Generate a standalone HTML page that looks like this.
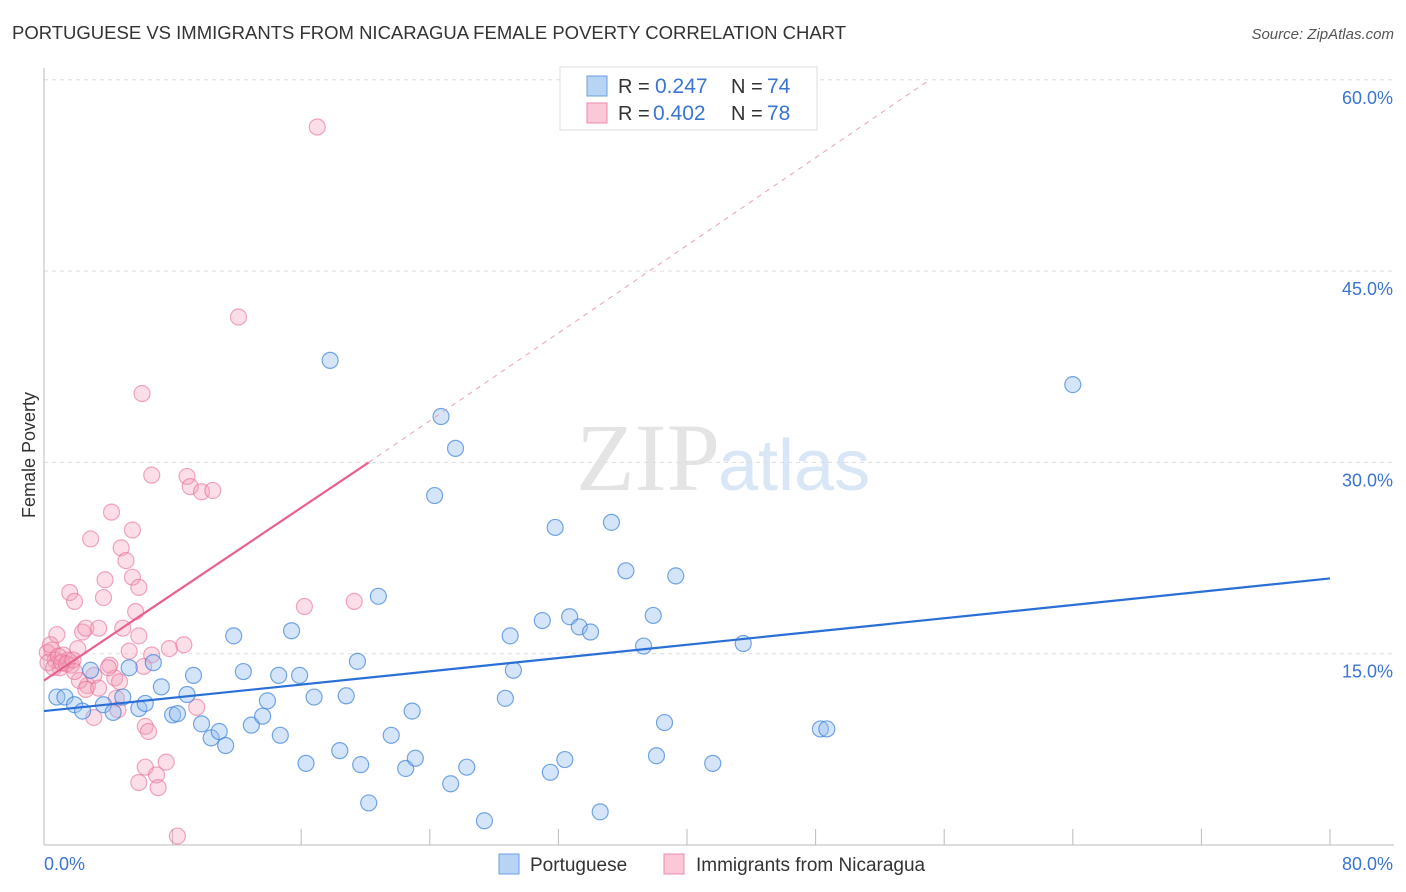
<!DOCTYPE html>
<html><head><meta charset="utf-8"><style>
body{margin:0;background:#fff;font-family:"Liberation Sans",sans-serif}
svg{display:block}
</style></head><body>
<svg id="c" width="1406" height="892">
<text x="12" y="39" font-size="18.5" fill="#333">PORTUGUESE VS IMMIGRANTS FROM NICARAGUA FEMALE POVERTY CORRELATION CHART</text>
<text x="1394" y="39" font-size="15" fill="#555" font-style="italic" text-anchor="end">Source: ZipAtlas.com</text>
<text x="720" y="490" font-size="96" fill="#e4e4e4" text-anchor="end" font-family="Liberation Serif,serif">ZIP</text>
<text x="718" y="490" font-size="72" fill="#d8e6f6">atlas</text>
<g id="grid"></g><g id="axes"></g><g id="pts"></g><g id="trend"></g>
<text x="35" y="455" font-size="18" fill="#333" text-anchor="middle" transform="rotate(-90 35 455)">Female Poverty</text>
<g>
<rect x="560" y="67" width="257" height="63" fill="#fff" stroke="#ddd"/>
<rect x="587" y="76" width="20" height="20" fill="#b8d4f4" stroke="#6a9fe0"/>
<text x="618" y="93" font-size="20" fill="#333">R =</text>
<text x="655" y="93" font-size="21" fill="#3a75d0">0.247</text>
<text x="731" y="93" font-size="20" fill="#333">N =</text>
<text x="767" y="93" font-size="21" fill="#3a75d0">74</text>
<rect x="587" y="103" width="20" height="20" fill="#fac8d6" stroke="#ec8aa8"/>
<text x="618" y="120" font-size="20" fill="#333">R =</text>
<text x="653" y="120" font-size="21" fill="#3a75d0">0.402</text>
<text x="731" y="120" font-size="20" fill="#333">N =</text>
<text x="767" y="120" font-size="21" fill="#3a75d0">78</text>
</g>
<g>
<rect x="499" y="854" width="20" height="20" fill="#b8d4f4" stroke="#6a9fe0"/>
<text x="530" y="871" font-size="19" fill="#333">Portuguese</text>
<rect x="664" y="854" width="20" height="20" fill="#fac8d6" stroke="#ec8aa8"/>
<text x="696" y="871" font-size="19" fill="#333">Immigrants from Nicaragua</text>
</g>
</svg>
<script>
const xTicks=[0,80];
const yTicks=[15,30,45,60];
const blueX=[0.8,1.3,1.9,2.4,2.9,3.7,4.3,4.9,5.3,5.9,6.3,6.8,7.3,8.0,8.3,8.9,9.3,9.8,10.4,10.9,11.3,11.8,12.4,12.9,13.6,13.9,14.7,14.6,15.4,15.9,16.3,16.8,17.8,18.4,18.8,19.5,19.7,20.2,20.8,21.6,22.5,22.9,23.1,24.3,24.7,25.3,25.6,26.3,27.4,28.7,29.0,29.2,31.0,31.5,31.8,32.4,32.7,33.3,34.0,34.6,35.3,36.2,37.3,37.9,38.1,38.6,39.3,41.6,43.5,48.3,48.7,64.0];
const blueY=[11.6,11.6,11.0,10.5,13.7,11.0,10.4,11.6,13.9,10.7,11.1,14.3,12.4,10.2,10.3,11.8,13.3,9.5,8.4,8.9,7.8,16.4,13.6,9.4,10.1,11.3,8.6,13.3,16.8,13.3,6.4,11.6,38.0,7.4,11.7,14.4,6.3,3.3,19.5,8.6,6.0,10.5,6.8,27.4,33.6,4.8,31.1,6.1,1.9,11.5,16.4,13.7,17.6,5.7,24.9,6.7,17.9,17.1,16.7,2.6,25.3,21.5,15.6,18.0,7.0,9.6,21.1,6.4,15.8,9.1,9.1,36.1];
const pinkX=[0.5,0.7,0.8,1.0,1.2,1.5,1.6,1.7,1.9,2.1,2.4,2.6,2.7,2.9,3.1,3.4,3.7,3.8,4.1,4.2,4.4,4.5,4.7,4.8,5.1,5.3,5.5,5.5,5.7,5.9,5.9,6.1,6.3,5.9,6.3,6.5,6.7,6.7,7.0,7.1,7.6,7.8,8.3,8.7,8.9,9.1,9.5,9.8,10.5,12.1,16.2,17.0,19.3,0.2,0.25,0.4,0.6,0.9,1.1,1.4,1.8,2.2,2.6,3.1,3.4,4.0,4.6,6.2,4.9,1.9];
const pinkY=[15.3,14.5,16.5,13.9,14.9,14.5,19.8,14.1,19.1,15.4,16.7,17.0,12.5,24.0,10.0,17.0,19.4,20.8,14.1,26.1,13.1,11.5,12.8,23.3,22.3,15.2,24.7,21.0,18.3,16.4,20.2,35.4,6.1,4.9,9.3,8.9,29.0,14.9,5.5,4.5,6.5,15.4,0.7,15.7,28.9,28.1,10.8,27.7,27.8,41.4,18.7,56.3,19.1,15.1,14.3,15.7,13.9,14.8,14.3,14.2,14.5,12.9,12.2,13.3,12.3,13.9,10.6,14.0,17.0,13.6];
const blueTrend=[[0,10.5],[80,20.9]];
const pinkTrend=[[0,12.9],[20.2,30.0]];
const pinkDash=[[20.2,30.0],[55.1,60]];
const NS="http://www.w3.org/2000/svg";
const sx=v=>44+v*(1286/80), sy=v=>845-v*(191.3/15);
function mk(t,a,p){const e=document.createElementNS(NS,t);for(const k in a)e.setAttribute(k,a[k]);document.getElementById(p).appendChild(e);return e;}
yTicks.forEach(t=>{
 const l=mk('line',{x1:44,x2:1394,y1:sy(t),y2:sy(t),stroke:'#ddd','stroke-dasharray':'4 4'},'grid');
 
 
 const tx=mk('text',{x:1393,y:sy(t)+24,'font-size':18,fill:'#3a75d0','text-anchor':'end'},'grid');tx.textContent=t.toFixed(1)+'%';
 
 
});
const ax=mk('line',{x1:44,x2:44,y1:68,y2:845,stroke:'#bbb'},'axes');


const bx=mk('line',{x1:44,x2:1394,y1:845,y2:845,stroke:'#bbb'},'axes');


for(let i=1;i<=10;i++){const x=sx(i*8);const t=mk('line',{x1:x,x2:x,y1:829,y2:845,stroke:'#bbb'},'axes');
 
 }
xTicks.forEach((t,i)=>{const tx=mk('text',{x:i?1393:44,y:870,'font-size':18,fill:'#3a75d0','text-anchor':i?'end':'start'},'axes');tx.textContent=t.toFixed(1)+'%';
 
 });
pinkX.forEach((x,i)=>{const c=mk('circle',{cx:sx(x),cy:sy(pinkY[i]),r:8,fill:'rgba(244,160,185,0.35)',stroke:'rgba(232,110,150,0.6)','stroke-width':1.2},'pts');
 
 });
blueX.forEach((x,i)=>{const c=mk('circle',{cx:sx(x),cy:sy(blueY[i]),r:8,fill:'rgba(150,190,240,0.4)',stroke:'rgba(60,130,215,0.7)','stroke-width':1.2},'pts');
 
 });
const bl=mk('line',{x1:sx(blueTrend[0][0]),y1:sy(blueTrend[0][1]),x2:sx(blueTrend[1][0]),y2:sy(blueTrend[1][1]),stroke:'#2a6fd6','stroke-width':2.2},'trend');


const pl=mk('line',{x1:sx(pinkTrend[0][0]),y1:sy(pinkTrend[0][1]),x2:sx(pinkTrend[1][0]),y2:sy(pinkTrend[1][1]),stroke:'#e8608e','stroke-width':2.2},'trend');


const pd=mk('line',{x1:sx(pinkDash[0][0]),y1:sy(pinkDash[0][1]),x2:sx(pinkDash[1][0]),y2:sy(pinkDash[1][1]),stroke:'#eaa0b8','stroke-width':1,'stroke-dasharray':'5 5'},'trend');


</script>
</body></html>
